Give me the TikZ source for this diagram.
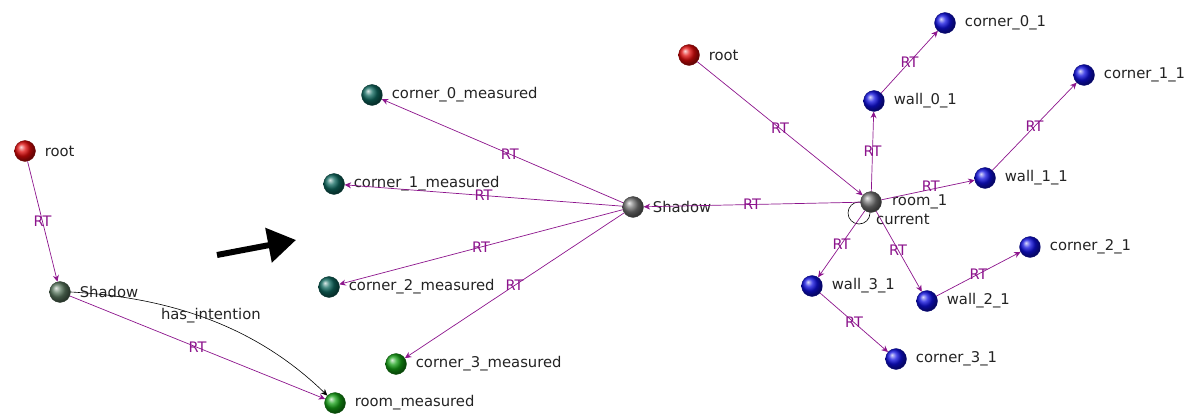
\documentclass[tikz,border=0pt]{standalone}
\usepackage{fontspec}
\setmainfont{DejaVu Sans}
\usetikzlibrary{arrows.meta,backgrounds}

\definecolor{rtpurple}{RGB}{140,20,140}
\definecolor{nodered}{RGB}{225,10,10}
\definecolor{nodeteal}{RGB}{15,105,95}
\definecolor{nodegreen}{RGB}{20,160,20}
\definecolor{nodeblue}{RGB}{15,15,225}
\definecolor{nodegray}{RGB}{115,115,115}
\definecolor{nodeshadow}{RGB}{90,120,95}
\definecolor{labelgray}{RGB}{35,35,35}

\tikzset{
  ball/.style={circle, minimum size=21pt, inner sep=0pt, ball color=#1,
               draw=#1!50!black, line width=0.3pt},
  lbl/.style={font=\fontsize{14.8}{16}\selectfont, text=labelgray, inner sep=0pt},
  rt/.style={draw=rtpurple, line width=0.7pt,
             -{Stealth[length=6.5pt,width=6pt]}},
  rtl/.style={font=\fontsize{14.5}{16}\selectfont, text=rtpurple, inner sep=0pt},
  intent/.style={draw=black, line width=0.6pt,
                 -{Stealth[length=6.5pt,width=6pt]}},
  bigarrow/.style={draw=black, line width=6pt,
                   -{Triangle[length=28pt,width=34pt]}},
}

\begin{document}
\begin{tikzpicture}[x=1pt, y=-1pt, label distance=9pt,
                    every label/.style={lbl}]
\useasboundingbox (0,0) rectangle (1189,414);

% ---------------- left graph ----------------
\node[ball=nodered,    label=0:root]          (lroot)   at (25,151)  {};
\node[ball=nodeshadow, label=0:Shadow]        (lshadow) at (60,292)  {};
\node[ball=nodegreen,  label=0:room\_measured] (lroom)  at (335,403) {};

\draw[rt] (lroot) -- node[rtl, pos=0.5] {RT} (lshadow);
\draw[rt] (lshadow) -- node[rtl, pos=0.5] {RT} (lroom);
\draw[intent] (lshadow.east) .. controls (185,298) and (265,335) ..
      node[lbl, pos=0.47, anchor=south, yshift=-3pt] {has\_intention} (lroom);

% transition arrow
\coordinate (arrfrom) at (217,255);
\coordinate (arrto)   at (296,240);
\draw[bigarrow] (arrfrom) -- (arrto);

% ---------------- middle graph ----------------
\node[ball=nodegray,  label=0:Shadow]             (mshadow) at (633,207) {};
\node[ball=nodeteal,  label=0:corner\_0\_measured] (mc0)     at (372,95)  {};
\node[ball=nodeteal,  label=0:corner\_1\_measured] (mc1)     at (334,184) {};
\node[ball=nodeteal,  label=0:corner\_2\_measured] (mc2)     at (329,287) {};
\node[ball=nodegreen, label=0:corner\_3\_measured] (mc3)     at (396,364) {};

\draw[rt] (mshadow) -- node[rtl, pos=0.47] {RT} (mc0);
\draw[rt] (mshadow) -- node[rtl, pos=0.5]  {RT} (mc1);
\draw[rt] (mshadow) -- node[rtl, pos=0.5]  {RT} (mc2);
\draw[rt] (mshadow) -- node[rtl, pos=0.5]  {RT} (mc3);

% ---------------- right graph ----------------
\node[ball=nodered,  label=0:root]          (rroot) at (689,55)   {};
\node[ball=nodegray]                         (room)  at (871,202)  {};
\node[lbl, anchor=west] (roomlbl) at (892,202) {room\_1};
\node[lbl, anchor=west] (curlbl)  at (876,219) {current};
\node[ball=nodeblue, label=0:wall\_0\_1]    (w0)    at (874,101)  {};
\node[ball=nodeblue, label=0:corner\_0\_1]  (c0)    at (945,23)   {};
\node[ball=nodeblue, label=0:wall\_1\_1]    (w1)    at (985,178)  {};
\node[ball=nodeblue, label=0:corner\_1\_1]  (c1)    at (1084,75)  {};
\node[ball=nodeblue, label=0:wall\_2\_1]    (w2)    at (927,301)  {};
\node[ball=nodeblue, label=0:corner\_2\_1]  (c2)    at (1030,247) {};
\node[ball=nodeblue, label=0:wall\_3\_1]    (w3)    at (812,286)  {};
\node[ball=nodeblue, label=0:corner\_3\_1]  (c3)    at (896,359)  {};

% "current" self loop behind room_1
\begin{scope}[on background layer]
  \draw[black, line width=0.6pt] ([shift={(-12,11)}]room.center) circle (11);
\end{scope}

\draw[rt] (rroot) -- node[rtl, pos=0.5] {RT} (room);
\draw[rt] (room)  -- node[rtl, pos=0.5] {RT} (mshadow);
\draw[rt] (room)  -- node[rtl, pos=0.5] {RT} (w0);
\draw[rt] (w0)    -- node[rtl, pos=0.5] {RT} (c0);
\draw[rt] (room)  -- node[rtl, pos=0.53, yshift=3pt] {RT} (w1);
\draw[rt] (w1)    -- node[rtl, pos=0.5] {RT} (c1);
\draw[rt] (room)  -- node[rtl, pos=0.48] {RT} (w2);
\draw[rt] (w2)    -- node[rtl, pos=0.5] {RT} (c2);
\draw[rt] (room)  -- node[rtl, pos=0.5] {RT} (w3);
\draw[rt] (w3)    -- node[rtl, pos=0.5] {RT} (c3);
\end{tikzpicture}
\end{document}
